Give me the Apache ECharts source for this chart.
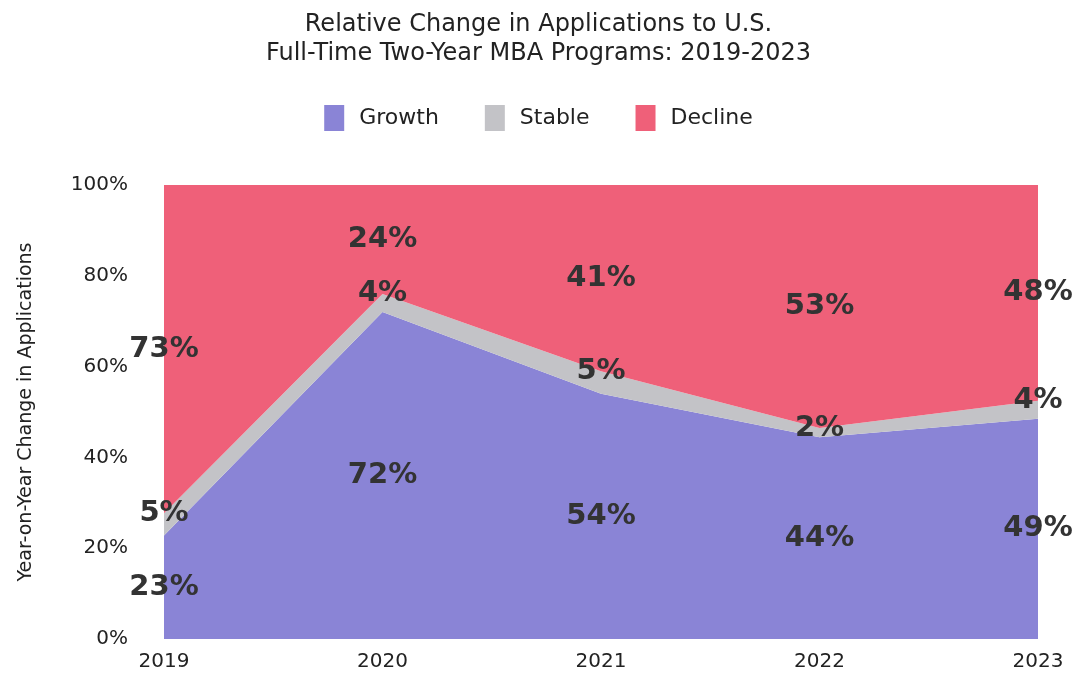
<!DOCTYPE html>
<html>
<head>
<meta charset="utf-8">
<script src="https://cdn.jsdelivr.net/npm/echarts@6/dist/echarts.min.js"></script>
<style>html,body{margin:0;padding:0;background:#fff;}#c{width:1077px;height:677px;}</style>
</head>
<body>
<div id="c"></div>
<script>
const years = ['2019', '2020', '2021', '2022', '2023'];
const growth = [23, 72, 54, 44, 49];
const stable = [5, 4, 5, 2, 4];
const decline = [73, 24, 41, 53, 48];
const yTicks = [0, 20, 40, 60, 80, 100];

const FONT = '"DejaVu Sans", sans-serif';
const totals = years.map((_, i) => growth[i] + stable[i] + decline[i]);
const share = arr => arr.map((v, i) => v / totals[i] * 100);
const gS = share(growth), sS = share(stable), dS = share(decline);

const gLab = years.map((y, i) => [y, gS[i] / 2, growth[i]]);
const sLab = years.map((y, i) => [y, gS[i] + sS[i], stable[i]]);
const dLab = years.map((y, i) => [y, gS[i] + sS[i] + dS[i] / 2, decline[i]]);

const colors = ['#8a84d6', '#c3c3c7', '#ef6079'];

function areaSeries(name, data, color) {
  return {
    name, type: 'line', stack: 'all', data, symbol: 'none',
    lineStyle: { width: 0 }, areaStyle: { color, opacity: 1 },
    itemStyle: { color }, emphasis: { disabled: true }, z: 2
  };
}
function labelSeries(data) {
  return {
    type: 'scatter', data, symbolSize: 1, silent: true, z: 5,
    itemStyle: { color: 'rgba(0,0,0,0)', opacity: 1 },
    label: {
      show: true, position: 'inside', formatter: p => p.value[2] + '%',
      fontFamily: FONT, fontSize: 29, fontWeight: 'bold', color: '#333',
      textBorderWidth: 0, opacity: 1
    }
  };
}

const chart = echarts.init(document.getElementById('c'));
chart.setOption({
  animation: false,
  color: colors,
  title: {
    text: 'Relative Change in Applications to U.S.\nFull-Time Two-Year MBA Programs: 2019-2023',
    left: 'center', top: 5,
    textStyle: { fontFamily: FONT, fontSize: 24, fontWeight: 'normal', color: '#222', lineHeight: 29 }
  },
  legend: {
    data: ['Growth', 'Stable', 'Decline'], top: 100, left: 'center',
    itemWidth: 20, itemHeight: 26, itemGap: 46, icon: 'rect',
    textStyle: { fontFamily: FONT, fontSize: 22, color: '#222', padding: [0, 0, 0, 10] }
  },
  grid: { left: 164, right: 39, top: 185, bottom: 38 },
  xAxis: {
    type: 'category', data: years, boundaryGap: false,
    axisLine: { show: false }, axisTick: { show: false },
    axisLabel: { fontFamily: FONT, fontSize: 20, color: '#222', margin: 13 }
  },
  yAxis: {
    type: 'value', min: yTicks[0], max: yTicks[yTicks.length - 1], interval: 20,
    name: 'Year-on-Year Change in Applications', nameLocation: 'middle', nameGap: 128,
    nameTextStyle: { fontFamily: FONT, fontSize: 19, color: '#222' },
    axisLine: { show: false }, axisTick: { show: false }, splitLine: { show: false },
    axisLabel: { fontFamily: FONT, fontSize: 20, color: '#222', margin: 36, formatter: '{value}%' }
  },
  series: [
    areaSeries('Growth', gS, colors[0]),
    areaSeries('Stable', sS, colors[1]),
    areaSeries('Decline', dS, colors[2]),
    labelSeries(gLab), labelSeries(sLab), labelSeries(dLab)
  ]
});
</script>
</body>
</html>
